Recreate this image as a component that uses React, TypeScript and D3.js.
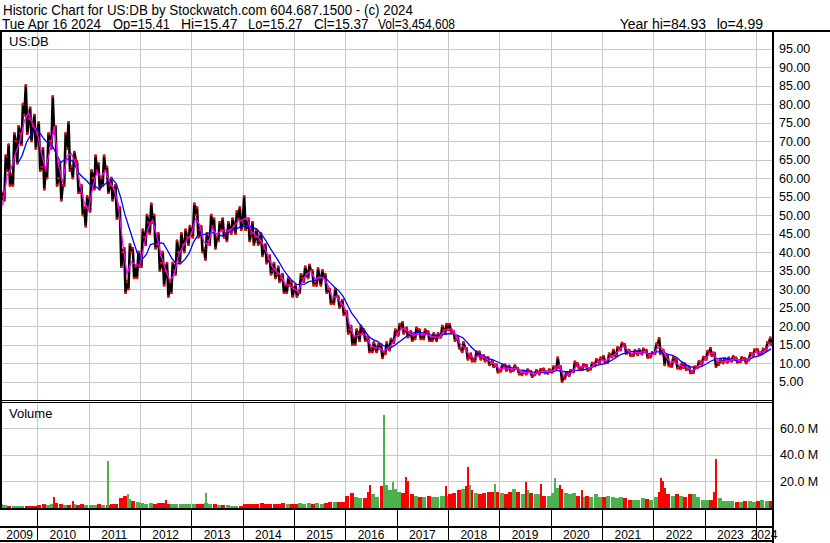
import React, { useEffect } from "react";
import * as d3 from "d3";

// ---------- DATA (monthly, Apr 2009 .. Apr 2024) ----------
const startMonth = Date.UTC(2009, 3, 1);
const endMonth = Date.UTC(2024, 4, 1);

const highs = [
  56, 66, 69, 72, 74, 80, 85, 79, 77,
  75, 68, 72, 82, 74, 64, 72, 75, 67, 64, 58, 55,
  62, 66, 64, 66, 63, 60, 58, 52, 41, 42, 41, 40,
  46, 50, 53, 50, 45, 40, 37, 37, 43, 45, 46, 47,
  53, 52, 47, 45, 50, 49, 48, 49, 48, 49, 51, 52,
  55, 49, 48, 46, 45, 42, 39, 37, 36, 34, 33, 32,
  31, 34, 36, 36.5, 35, 35.5, 35, 34, 30, 30, 28, 27,
  24, 20, 19, 20, 19, 17, 15.5, 15, 15, 15.5, 16.5, 19,
  20.5, 21, 19.5, 18.5, 19.5, 19, 19, 18.5, 18, 18, 20, 20.5,
  20.5, 18.5, 17, 15.5, 14, 12.5, 13, 13, 12, 11.5, 10.5, 9.5,
  9.5, 9.5, 9.2, 9.3, 8.6, 7.8, 8.2, 7.8, 8.0, 8.3, 8.4, 8.2,
  9, 11.4, 9, 7.5, 8, 10.3, 9.8, 9.6, 9.4, 10, 11, 11.4,
  11.8, 12.5, 13.5, 14.2, 15.4, 15, 13.5, 13.4, 13.6, 13.8, 13.5, 12.8,
  15.2, 16.7, 13.5, 12, 11.5, 11, 9.8, 9.8, 9, 9, 10.5, 11.6,
  13.2, 14, 12.7, 11, 11.2, 11.4, 11.8, 11.4, 11.5, 11.3, 12.6, 13.6,
  13.6, 13.8, 15.5, 16.8,
];
const lows = [
  47, 54, 58, 58, 64, 69, 72, 70, 68,
  62, 57, 60, 68, 58, 54, 58, 62, 60, 56, 50, 47,
  51, 57, 57, 58, 56, 54, 49, 36, 29, 30, 33, 33,
  36, 42, 45, 41, 35, 31, 28, 29, 34, 37, 40, 42,
  44, 44, 40, 38, 42, 41, 43, 44, 43, 45, 45, 46,
  46, 43, 42, 42, 39, 37, 34, 33, 32, 29, 29, 28,
  28, 29, 32, 33, 31, 31, 31, 29, 26, 26, 25, 23,
  18, 15, 15, 16, 16, 13, 13, 13, 11.4, 12.5, 13.5, 15.5,
  17.5, 18, 17, 16, 16.5, 16.5, 16.5, 16, 16, 16, 17, 18,
  18.5, 16, 14, 13, 11, 10.5, 10.5, 11, 10.5, 9.5, 9, 7.5,
  7.8, 8, 7.7, 8, 7, 6.8, 7, 6.3, 6.8, 7, 7.3, 7.2,
  7.5, 8.5, 4.95, 5.8, 6.6, 7.6, 8.3, 8.2, 8.0, 8.3, 9.2, 10,
  10, 10.2, 11.6, 12, 13.5, 12.5, 12, 12, 12.2, 12.4, 11.5, 11.6,
  12.5, 12.5, 9.5, 9.2, 9, 8.6, 8.4, 8.2, 7.3, 7.4, 8.8, 9.5,
  11, 12, 9, 9.6, 10, 10.2, 10.5, 10.2, 10.3, 10.0, 10.8, 12,
  12.2, 12.5, 13.3, 14.9,
];
const closes = [
  55, 62, 61, 70, 72, 77, 76, 74, 72,
  63, 62, 70, 72, 60, 58, 68, 63, 65, 56, 52, 52,
  60, 62, 60, 62, 58, 57, 52, 40, 32, 40, 36, 36,
  44, 48, 48, 42, 37, 35, 32, 35, 40, 42, 44, 45,
  50, 46, 41, 43, 47, 44, 46, 45, 46, 47, 49, 48,
  47, 45, 44, 43, 41, 38, 35, 34, 33, 31, 31, 30,
  29, 33, 34, 35, 32, 33, 33, 30, 27, 28, 26, 24,
  19, 17, 18, 18, 17, 14, 14, 14, 13, 14, 15.5, 18,
  19.5, 19, 18, 17.5, 18, 17.5, 18, 17, 17, 17, 19, 19,
  18.5, 16.5, 14, 14, 11.5, 11, 12, 11.5, 11, 10, 9.5, 8,
  8.8, 8.4, 8, 8.5, 7.3, 7.5, 7.6, 6.8, 7.6, 7.8, 7.6, 7.7,
  8.5, 8.8, 6.2, 7, 7.7, 9.5, 8.8, 9.2, 8.4, 9.4, 10.6, 10.9,
  10.4, 12, 12, 14, 14.8, 13, 12.2, 12.8, 12.8, 13.1, 11.8, 12.5,
  15, 13, 12, 9.5, 10.5, 8.8, 8.8, 8.5, 7.5, 8.8, 10.2, 11.3,
  12.8, 12.7, 10, 10.4, 10.6, 10.6, 11.2, 10.6, 11, 10.9, 12.4, 13.5,
  12.8, 13.4, 15.5, 15.37,
];
// typical daily volume in each month, millions
const volumes = [
  3.0, 2.0, 1.5, 1.2, 1.3, 1.2, 1.5, 1.0, 1.0,
  2.0, 2.5, 1.8, 2.5, 3.5, 3.0, 2.0, 1.8, 2.5, 2.0, 2.5, 2.0,
  2.2, 2.0, 2.5, 2.0, 2.0, 2.5, 3.0, 7.0, 8.5, 6.5, 5.0, 4.0,
  3.5, 3.0, 3.5, 3.0, 3.5, 3.5, 3.0, 2.5, 3.0, 2.5, 2.5, 2.5,
  3.0, 3.0, 2.5, 3.5, 3.0, 3.0, 2.0, 1.8, 2.0, 1.5, 1.5, 1.5,
  3.0, 3.0, 3.0, 3.0, 3.5, 3.0, 3.0, 3.0, 2.8, 3.5, 3.0, 3.0,
  3.0, 3.5, 3.0, 3.5, 3.0, 3.5, 3.0, 3.5, 4.0, 4.5, 4.0, 4.5,
  9.0, 11.0, 8.0, 7.0, 7.0, 12.0, 10.0, 8.0, 16.0, 17.0, 13.0, 14.0,
  12.0, 11.0, 13.0, 10.0, 9.0, 8.0, 8.0, 8.5, 8.0, 8.0, 9.0, 9.0,
  10.0, 11.0, 13.0, 14.0, 16.0, 13.0, 11.0, 10.0, 11.0, 12.0, 12.0, 12.0,
  11.0, 10.0, 12.0, 14.0, 12.0, 10.0, 13.0, 11.0, 10.0, 10.0, 9.0, 9.0,
  11.0, 15.0, 14.0, 11.0, 10.0, 11.0, 9.0, 8.0, 9.0, 8.0, 10.0, 8.0,
  8.0, 9.0, 8.0, 7.0, 8.0, 7.0, 6.0, 5.5, 6.0, 7.0, 6.5, 6.0,
  8.0, 12.0, 15.0, 10.0, 9.0, 10.0, 9.0, 8.0, 10.0, 10.0, 8.0, 6.0,
  6.0, 6.0, 12.0, 7.0, 5.0, 5.0, 5.0, 4.5, 4.5, 5.0, 5.0, 4.5,
  5.0, 5.5, 5.0, 5.0,
];
// single high-volume sessions, millions
const spikeDates = [
  "2010-04-27", "2010-09-13", "2011-05-20", "2011-10-06", "2012-07-05", "2013-04-18",
  "2016-06-24", "2016-09-30", "2016-10-03", "2016-12-05", "2017-03-06", "2017-03-20",
  "2017-12-20", "2018-05-24", "2018-06-05", "2018-11-29", "2019-07-08", "2019-10-24",
  "2020-01-30", "2020-03-09", "2020-08-10", "2022-02-24", "2022-03-07", "2023-03-24",
];
const spikeVols = [8, 4.6, 35, 10, 5.5, 11, 17, 70, 24, 19, 23, 20, 16, 31, 17, 18, 19, 18, 22, 17, 13, 22, 20, 36.5];
const spikeUp = [false, false, true, true, false, true, false, true, true, true, false, false, false, false, true, true, false, false, true, false, false, false, false, false];

const priceTicks = [5, 10, 15, 20, 25, 30, 35, 40, 45, 50, 55, 60, 65, 70, 75, 80, 85, 90, 95];
const volTicks = [20, 40, 60];
const years = [2009, 2010, 2011, 2012, 2013, 2014, 2015, 2016, 2017, 2018, 2019, 2020, 2021, 2022, 2023, 2024];

const headerLine1 = "Historic Chart for US:DB by Stockwatch.com 604.687.1500 - (c) 2024";
const headerFields = ["Tue Apr 16 2024", "Op=15.41", "Hi=15.47", "Lo=15.27", "Cl=15.37", "Vol=3,454,608", "Year hi=84.93", "lo=4.99"];

// ---------- LAYOUT ----------
const W = 830, H = 543;
const L = 2, R = 772;
const pTop = 32, pBot = 400;
const vTop = 403, vBot = 509;
const FONT = "'Liberation Sans', Arial, Helvetica, sans-serif";
const GRID = "#c8c8c8";
const RED = "#ff0000";
const GREEN = "#4cb04c";

// header field placement (left x, width) as measured on the reference
const fieldX = [2, 113, 181, 248, 314, 378];
const fieldW = [99, 57, 56.5, 54.5, 54.5, 77];

export default function App() {
  useEffect(() => {
    document.body.style.margin = "0";
  }, []);

  const x = d3.scaleUtc().domain([new Date(Date.UTC(2010, 0, 1)), new Date(Date.UTC(2024, 0, 1))]).range([37.3, 756.1]);
  const yP = d3.scaleLinear().domain([0, 99.46]).range([pBot, pTop]);
  const yV = d3.scaleLinear().domain([0, 20]).range([507.5, 481.1]);

  const months = d3.utcMonth.range(new Date(startMonth), new Date(endMonth));
  const x0 = months.map((m) => x(m));
  const x1 = months.map((m) => x(d3.utcMonth.offset(m, 1)));
  const cx = months.map((m, i) => (x0[i] + x1[i]) / 2);

  const yearBounds = years.slice(1).map((yr) => x(new Date(Date.UTC(yr, 0, 1))));
  const segs = [L, ...yearBounds, R];

  // zig-zag path through open -> extremes -> close of every month
  type P = { x: number; v: number };
  const zig: P[] = [];
  const dots: P[] = [];
  months.forEach((m, i) => {
    const open = i > 0 ? closes[i - 1] : lows[i];
    const w = x1[i] - x0[i];
    const up = closes[i] >= open;
    const e1 = up ? lows[i] : highs[i];
    const e2 = up ? highs[i] : lows[i];
    const pts = [
      { x: x0[i], v: open },
      { x: x0[i] + w / 3, v: e1 },
      { x: x0[i] + (2 * w) / 3, v: e2 },
      { x: x1[i], v: closes[i] },
    ];
    if (i > 0) pts.shift();
    zig.push(...pts);
    dots.push({ x: x0[i] + w / 3, v: e1 }, { x: x0[i] + (2 * w) / 3, v: e2 }, { x: x1[i], v: closes[i] });
  });

  // moving averages
  const fast = closes.map((c, i) => ({ x: cx[i] + 2, v: (highs[i] + lows[i] + c) / 3 }));
  const slow = closes
    .map((c, i) => ({ x: cx[i], v: d3.mean(closes.slice(Math.max(0, i - 5), i + 1)) as number, i }))
    .filter((d) => d.i >= 4);
  const line = d3.line<P>().x((d) => d.x).y((d) => yP(d.v));

  return (
    <svg width={W} height={H} style={{ position: "absolute", left: 0, top: 0, background: "#fff" }} fontFamily={FONT}>
      <defs>
        <clipPath id="pclip"><rect x={L} y={pTop} width={R - L} height={pBot - pTop} /></clipPath>
        <clipPath id="vclip"><rect x={L} y={vTop} width={R - L} height={vBot - vTop} /></clipPath>
      </defs>
      <rect x={0} y={0} width={W} height={H} fill="#fff" />

      {/* header */}
      <text x={3} y={14.5} fontSize={14.4} fill="#000" textLength={410} lengthAdjust="spacingAndGlyphs">{headerLine1}</text>
      {fieldX.map((fx, i) => (
        <text key={"hf" + i} x={fx} y={28.6} fontSize={14} fill="#000" textLength={fieldW[i]} lengthAdjust="spacingAndGlyphs">{headerFields[i]}</text>
      ))}
      <text x={706} y={28.6} fontSize={14} fill="#000" textAnchor="end">{headerFields[6]}</text>
      <text x={763} y={28.6} fontSize={14} fill="#000" textAnchor="end">{headerFields[7]}</text>

      {/* grids */}
      <g shapeRendering="crispEdges" stroke={GRID} strokeWidth={1}>
        {priceTicks.map((t) => (
          <line key={"ph" + t} x1={L} x2={R} y1={Math.round(yP(t)) + 0.5} y2={Math.round(yP(t)) + 0.5} />
        ))}
        {yearBounds.map((bx, i) => (
          <line key={"pv" + i} x1={Math.round(bx) + 0.5} x2={Math.round(bx) + 0.5} y1={pTop} y2={pBot} />
        ))}
        {volTicks.map((t) => (
          <line key={"vh" + t} x1={L} x2={R} y1={Math.round(yV(t)) + 0.5} y2={Math.round(yV(t)) + 0.5} />
        ))}
        {yearBounds.map((bx, i) => (
          <line key={"vv" + i} x1={Math.round(bx) + 0.5} x2={Math.round(bx) + 0.5} y1={vTop} y2={vBot} />
        ))}
      </g>

      {/* price */}
      <g clipPath="url(#pclip)">
        <path d={line(zig) || ""} fill="none" stroke="#000" strokeWidth={2.6} strokeLinejoin="round" />
        {dots.map((d, i) => (
          <rect key={"d" + i} x={d.x - 1.2} y={yP(d.v) - 1.2} width={2.4} height={2.4} fill={RED} />
        ))}
        <path d={line(slow) || ""} fill="none" stroke="#0000ff" strokeWidth={1.3} />
        <path d={line(fast) || ""} fill="none" stroke="#ff00ff" strokeWidth={1.3} />
      </g>

      {/* volume */}
      <g clipPath="url(#vclip)" shapeRendering="crispEdges">
        {months.map((m, i) => (
          <rect key={"v" + i} x={cx[i] - 2} width={4} y={yV(volumes[i])} height={yV(0) - yV(volumes[i])}
            fill={i === 0 || closes[i] >= closes[i - 1] ? GREEN : RED} />
        ))}
        {spikeDates.map((d, i) => {
          const sx = x(new Date(d + "T00:00:00Z"));
          return <rect key={"s" + i} x={sx - 1} width={2} y={yV(spikeVols[i])} height={yV(0) - yV(spikeVols[i])} fill={spikeUp[i] ? GREEN : RED} />;
        })}
      </g>

      {/* labels in panels */}
      <text x={9} y={46} fontSize={13} fill="#000">US:DB</text>
      <text x={9} y={418} fontSize={13} fill="#000">Volume</text>

      {/* right axis labels */}
      {priceTicks.map((t) => (
        <text key={"pl" + t} x={779} y={yP(t)} dy="0.36em" fontSize={12.5} fill="#000">{t.toFixed(2)}</text>
      ))}
      {volTicks.map((t) => (
        <text key={"vl" + t} x={780} y={yV(t)} dy="0.36em" fontSize={12.5} fill="#000">{t.toFixed(1) + " M"}</text>
      ))}

      {/* frame */}
      <g fill="#000" shapeRendering="crispEdges">
        <rect x={0} y={30} width={W} height={2} />
        <rect x={0} y={30} width={2} height={vBot - 30} />
        <rect x={772} y={30} width={2} height={H - 30} />
        <rect x={0} y={400} width={773} height={1} />
        <rect x={0} y={402} width={773} height={1} />
        <rect x={0} y={508} width={773} height={2} />
        <rect x={0} y={526} width={773} height={1.5} />
        <rect x={0} y={540} width={773} height={2} />
        {yearBounds.map((bx, i) => (
          <rect key={"xb" + i} x={Math.round(bx)} y={509} width={1} height={32} />
        ))}
      </g>

      {/* year labels */}
      {years.map((yr, i) => (
        <text key={"y" + yr} x={(segs[i] + segs[i + 1]) / 2} y={538.5} fontSize={12} fill="#000" textAnchor="middle">{yr}</text>
      ))}
    </svg>
  );
}
